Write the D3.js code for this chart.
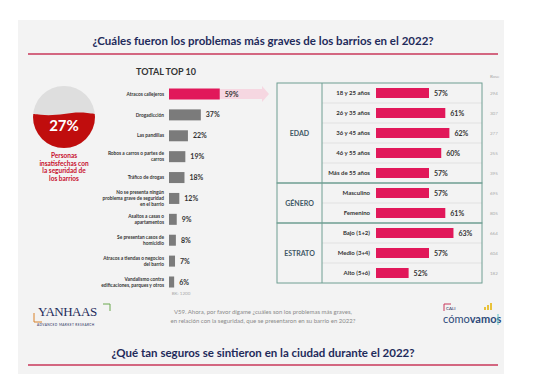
<!DOCTYPE html>
<html>
<head>
<meta charset="utf-8">
<script src="https://cdn.jsdelivr.net/npm/d3@7"></script>
<style>
  body { margin: 0; background: #fff; }
  svg { display: block; font-family: Lato, "Open Sans", sans-serif; }
</style>
</head>
<body>
<svg id="chart"></svg>
<script>
const title = "¿Cuáles fueron los problemas más graves de los barrios en el 2022?";
const subtitle = "¿Qué tan seguros se sintieron en la ciudad durante el 2022?";

const topCategories = [
  "Atracos callejeros",
  "Drogadicción",
  "Las pandillas",
  "Robos a carros o partes de\ncarros",
  "Tráfico de drogas",
  "No se presenta ningún\nproblema grave de seguridad\nen el barrio",
  "Asaltos a casas o\napartamentos",
  "Se presentan casos de\nhomicidio",
  "Atracos a tiendas o negocios\ndel barrio",
  "Vandalismo contra\nedificaciones, parques y otros"
];
const topValues = [59, 37, 22, 19, 18, 12, 9, 8, 7, 6];

const insatisfechos = 27;

const groups = ["EDAD", "GÉNERO", "ESTRATO"];
const segGroup = ["EDAD", "EDAD", "EDAD", "EDAD", "EDAD", "GÉNERO", "GÉNERO", "ESTRATO", "ESTRATO", "ESTRATO"];
const segLabels = ["18 y 25 años", "26 y 35 años", "36 y 45 años", "46 y 55 años", "Más de 55 años",
  "Masculino", "Femenino", "Bajo (1+2)", "Medio (3+4)", "Alto (5+6)"];
const segValues = [57, 61, 62, 60, 57, 57, 61, 63, 57, 52];
const segBase = [294, 307, 277, 255, 395, 695, 805, 664, 604, 182];

const W = 544, H = 391;
const navy = "#1f2b5b", crimson = "#c8375a", pink = "#e1185a", grey = "#7b7b7b", teal = "#6f9e92";

const svg = d3.select("#chart").attr("width", W).attr("height", H);

// background panel
svg.append("rect").attr("x", 18).attr("y", 20).attr("width", 486).attr("height", 354).attr("fill", "#f3f3f3");

// titles
svg.append("text").attr("x", 263).attr("y", 45).attr("text-anchor", "middle")
  .attr("font-size", 11.5).attr("font-weight", 700).attr("fill", navy).text(title);
svg.append("line").attr("x1", 28).attr("x2", 498).attr("y1", 54).attr("y2", 54)
  .attr("stroke", crimson).attr("stroke-width", 1.5);
svg.append("text").attr("x", 263).attr("y", 357).attr("text-anchor", "middle")
  .attr("font-size", 11.5).attr("font-weight", 700).attr("fill", navy).text(subtitle);
svg.append("line").attr("x1", 28).attr("x2", 498).attr("y1", 365).attr("y2", 365)
  .attr("stroke", crimson).attr("stroke-width", 1.5);

// ---- liquid circle
const cx = 64, cy = 117, r = 31;
svg.append("defs").append("clipPath").attr("id", "circ")
  .append("circle").attr("cx", cx).attr("cy", cy).attr("r", r);
svg.append("circle").attr("cx", cx).attr("cy", cy).attr("r", r).attr("fill", "#dedede");
const level = d3.scaleLinear().domain([0, 1]).range([cy + r, cy - r]);
const waveY = level(0.55);
const wave = d3.range(0, 9).map(i => [cx - r + i * (2 * r / 8), waveY + Math.sin(i * Math.PI / 4) * 1.5]);
const wavePath = d3.line().curve(d3.curveBasis)(wave) + `L${cx + r},${cy + r}L${cx - r},${cy + r}Z`;
svg.append("path").attr("d", wavePath).attr("fill", "#c00d0d").attr("clip-path", "url(#circ)");
svg.append("text").attr("x", cx).attr("y", cy + 14).attr("text-anchor", "middle")
  .attr("font-size", 15).attr("font-weight", 700).attr("fill", "#fff").text(insatisfechos + "%");
["Personas", "insatisfechas con", "la seguridad de", "los barrios"].forEach((t, i) => {
  svg.append("text").attr("x", cx).attr("y", 158 + i * 7.5).attr("text-anchor", "middle")
    .attr("font-size", 6.5).attr("font-weight", 700).attr("fill", "#c8102e").text(t);
});

// ---- left bar chart
svg.append("text").attr("x", 166).attr("y", 75).attr("text-anchor", "middle")
  .attr("font-size", 9).attr("font-weight", 700).attr("fill", "#333").text("TOTAL TOP 10");

const yL = d3.scalePoint().domain(topCategories).range([94, 282]);
const xL = d3.scaleLinear().domain([0, 100]).range([169, 255]);

// arrow behind first bar
const a0 = yL(topCategories[0]);
svg.append("path")
  .attr("d", `M${xL(topValues[0])},${a0 - 5}L${262},${a0 - 5}L${262},${a0 - 8}L${269},${a0}L${262},${a0 + 8}L${262},${a0 + 5}L${xL(topValues[0])},${a0 + 5}Z`)
  .attr("fill", "#f6d7e1");

const gL = svg.append("g");
gL.selectAll("rect").data(topValues).join("rect")
  .attr("x", xL(0))
  .attr("y", (d, i) => yL(topCategories[i]) - 5.5)
  .attr("width", d => xL(d) - xL(0))
  .attr("height", 11)
  .attr("fill", (d, i) => i === 0 ? pink : grey);
gL.selectAll("text.val").data(topValues).join("text").attr("class", "val")
  .attr("x", d => xL(d) + 5)
  .attr("y", (d, i) => yL(topCategories[i]) + 2.5)
  .attr("font-size", 7).attr("font-weight", 700).attr("fill", "#333")
  .text(d => d + "%");
topCategories.forEach(c => {
  const lines = c.split("\n");
  const t = gL.append("text").attr("x", 164).attr("text-anchor", "end")
    .attr("font-size", 4.8).attr("font-weight", 700).attr("fill", "#333");
  lines.forEach((l, j) => {
    t.append("tspan").attr("x", 164)
      .attr("y", yL(c) + 1.7 + (j - (lines.length - 1) / 2) * 6).text(l);
  });
});
svg.append("text").attr("x", 181).attr("y", 295).attr("text-anchor", "middle")
  .attr("font-size", 4.5).attr("fill", "#aaa").text("BK: 1200");

// ---- right table
const yR = d3.scaleBand().domain(segLabels).range([83, 283]);
const xR = d3.scaleLinear().domain([44, 70]).range([376, 482]);
const tL = 277, tM = 322, tR = 482;

const gR = svg.append("g");
// row separators
segLabels.forEach((s, i) => {
  if (i > 0 && segGroup[i] === segGroup[i - 1]) {
    gR.append("line").attr("x1", tM).attr("x2", tR).attr("y1", yR(s)).attr("y2", yR(s))
      .attr("stroke", "#dcdcdc").attr("stroke-width", 0.8);
  }
});
// group blocks
groups.forEach(g => {
  const idx = segGroup.map((d, i) => d === g ? i : -1).filter(i => i >= 0);
  const y0 = yR(segLabels[idx[0]]);
  const y1 = yR(segLabels[idx[idx.length - 1]]) + yR.bandwidth();
  gR.append("rect").attr("x", tL).attr("y", y0).attr("width", tR - tL).attr("height", y1 - y0)
    .attr("fill", "none").attr("stroke", teal).attr("stroke-width", 1);
  gR.append("text").attr("x", (tL + tM) / 2).attr("y", (y0 + y1) / 2 + 2.5).attr("text-anchor", "middle")
    .attr("font-size", 7).attr("font-weight", 700).attr("fill", "#3f5866").text(g);
});
gR.append("line").attr("x1", tM).attr("x2", tM).attr("y1", 83).attr("y2", 283)
  .attr("stroke", teal).attr("stroke-width", 1);

gR.selectAll("rect.bar").data(segValues).join("rect").attr("class", "bar")
  .attr("x", xR(44))
  .attr("y", (d, i) => yR(segLabels[i]) + yR.bandwidth() / 2 - 5)
  .attr("width", d => xR(d) - xR(44))
  .attr("height", 10)
  .attr("fill", pink);
gR.selectAll("text.val").data(segValues).join("text").attr("class", "val")
  .attr("x", d => xR(d) + 5)
  .attr("y", (d, i) => yR(segLabels[i]) + yR.bandwidth() / 2 + 2.5)
  .attr("font-size", 7).attr("font-weight", 700).attr("fill", "#333").text(d => d + "%");
gR.selectAll("text.lab").data(segLabels).join("text").attr("class", "lab")
  .attr("x", 370).attr("y", d => yR(d) + yR.bandwidth() / 2 + 2.2)
  .attr("text-anchor", "end").attr("font-size", 6).attr("font-weight", 700).attr("fill", "#333").text(d => d);
svg.append("text").attr("x", 490).attr("y", 78).attr("font-size", 4.5).attr("fill", "#aaa").text("Base");
gR.selectAll("text.base").data(segBase).join("text").attr("class", "base")
  .attr("x", 490).attr("y", (d, i) => yR(segLabels[i]) + yR.bandwidth() / 2 + 1.5)
  .attr("font-size", 4.5).attr("fill", "#aaa").text(d => d);

// ---- footer note
["V59. Ahora, por favor dígame ¿cuáles son los problemas más graves,",
 "en relación con la seguridad, que se presentaron en su barrio en 2022?"].forEach((t, i) => {
  svg.append("text").attr("x", 263).attr("y", 314 + i * 9).attr("text-anchor", "middle")
    .attr("font-size", 6).attr("fill", "#8a8a8a").text(t);
});

// ---- logos
const yl = svg.append("g");
yl.append("text").attr("x", 38).attr("y", 316).attr("font-size", 13).attr("fill", "#1f2b5b")
  .attr("font-family", "'Liberation Serif', serif").attr("letter-spacing", -0.5).text("YANHAAS");
yl.append("path").attr("d", "M103,304 L110,304 L110,311").attr("fill", "none").attr("stroke", "#6aa84f").attr("stroke-width", 1);
yl.append("path").attr("d", "M34,313 L34,322 L42,322").attr("fill", "none").attr("stroke", "#d9822b").attr("stroke-width", 1);
yl.append("text").attr("x", 37).attr("y", 325.5).attr("font-size", 3.2).attr("fill", "#1f2b5b")
  .attr("letter-spacing", 0.4).text("ADVANCED MARKET RESEARCH");

const cl = svg.append("g");
cl.append("path").attr("d", "M444,311 L444,304 L451,304").attr("fill", "none").attr("stroke", crimson).attr("stroke-width", 1);
cl.append("text").attr("x", 446).attr("y", 310).attr("font-size", 4.5).attr("fill", "#1f2b5b").text("CALI");
[[484, 3], [487, 5], [490, 7]].forEach(([x, h]) => {
  cl.append("rect").attr("x", x).attr("y", 310 - h).attr("width", 2).attr("height", h).attr("fill", "#e9c23a");
});
cl.append("text").attr("x", 443).attr("y", 323).attr("font-size", 11).attr("font-weight", 700).attr("fill", "#2d4a7a")
  .html('<tspan font-weight="400">cómo</tspan>vamos');
cl.append("line").attr("x1", 498).attr("x2", 498).attr("y1", 314).attr("y2", 325).attr("stroke", "#5ec2c8").attr("stroke-width", 1);
</script>
</body>
</html>
